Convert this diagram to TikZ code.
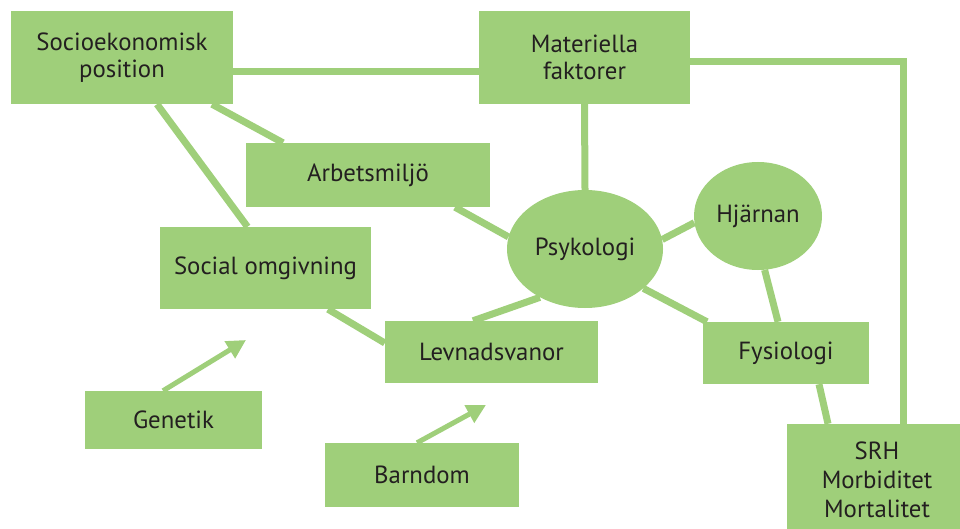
\documentclass[tikz,border=0pt]{standalone}
\usepackage{fontspec}
\setmainfont{PT Sans}
\usetikzlibrary{backgrounds,arrows.meta,shapes.geometric}
\definecolor{gr}{RGB}{159,207,122}
\definecolor{tx}{RGB}{35,31,32}
\tikzset{
  box/.style={rectangle,fill=gr,inner sep=0pt,align=center,text=tx,font=\fontsize{24.8}{27}\selectfont},
  oval/.style={ellipse,fill=gr,inner sep=0pt,text=tx,font=\fontsize{24.8}{27}\selectfont},
  link/.style={draw=gr,line width=7pt},
  arr/.style={draw=gr,line width=5pt,-{Triangle[length=19pt,width=19pt]}}
}
\begin{document}
\begin{tikzpicture}[x=1pt,y=-1pt]
\useasboundingbox (0,0) rectangle (960,529);
\node[box,minimum width=222pt,minimum height=93pt] (soc) at (122,57.5) {Socioekonomisk\\position};
\node[box,minimum width=211pt,minimum height=93pt] (mat) at (584.5,57.5) {Materiella\\faktorer};
\node[box,minimum width=244pt,minimum height=64pt] (arb) at (368,175) {Arbetsmiljö};
\node[oval,minimum width=156pt,minimum height=118pt] (psy) at (585,249) {Psykologi};
\node[oval,minimum width=128pt,minimum height=108pt] (hj) at (758,216) {Hjärnan};
\node[box,minimum width=211pt,minimum height=82pt] (socom) at (265.5,268) {Social omgivning};
\node[box,minimum width=213pt,minimum height=62pt] (lev) at (491.5,352) {Levnadsvanor};
\node[box,minimum width=166pt,minimum height=62pt] (fys) at (786,353) {Fysiologi};
\node[box,minimum width=180pt,minimum height=111pt,font=\fontsize{24.8}{29}\selectfont] (srh) at (877,479.5) {SRH\\Morbiditet\\Mortalitet};
\node[box,minimum width=177pt,minimum height=58pt] (gen) at (173.5,420) {Genetik};
\node[box,minimum width=194pt,minimum height=64pt] (bar) at (422,475) {Barndom};
\coordinate (gtip) at (246,340);
\coordinate (btip) at (486,405);
\begin{scope}[on background layer]
\draw[link] ([yshift=-14.5pt]soc.east) -- ([yshift=-14.5pt]mat.west);
\draw[link] ([yshift=-4.5pt]mat.east) -| ([xshift=26pt]srh.north);
\draw[link] ([xshift=90pt]soc.south) -- ([xshift=-85pt]arb.north);
\draw[link] ([xshift=35pt]soc.south) -- ([xshift=-18pt]socom.north);
\draw[link] (mat.south) -- (psy.90);
\draw[link] ([xshift=87pt]arb.south) -- (psy.171);
\draw[link] (psy.7) -- (hj.186);
\draw[link] (psy.227) -- ([xshift=-18.5pt]lev.north);
\draw[link] (psy.326) -- ([xshift=-79pt]fys.north);
\draw[link] ([xshift=62.5pt]socom.south) -- ([yshift=9pt]lev.west);
\draw[link] (hj.277) -- ([xshift=-8pt]fys.north);
\draw[link] ([xshift=33pt]fys.south) -- ([xshift=-49pt]srh.north);
\end{scope}
\draw[arr] ([xshift=-10.5pt]gen.north) -- (gtip);
\draw[arr] ([xshift=-5pt]bar.north) -- (btip);
\end{tikzpicture}
\end{document}
